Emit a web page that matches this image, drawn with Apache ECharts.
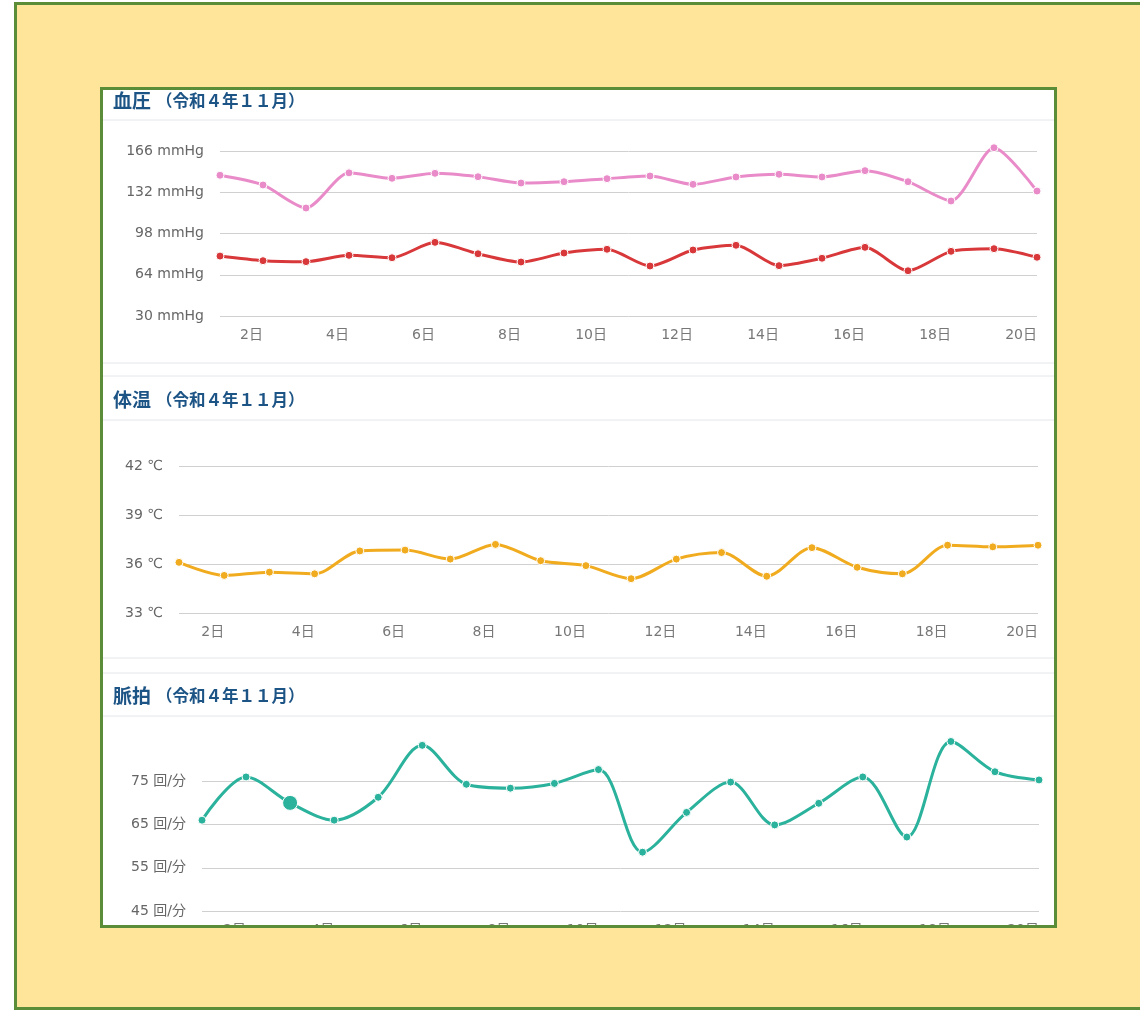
<!DOCTYPE html>
<html>
<head>
<meta charset="utf-8">
<script src="https://cdn.jsdelivr.net/npm/echarts@6/dist/echarts.min.js"></script>
<style>
html, body { margin: 0; padding: 0; width: 1140px; height: 1011px; overflow: hidden; background: #fff; }
#frame {
  position: absolute; left: 14px; top: 2px; width: 1140px; height: 1008px;
  box-sizing: border-box; background: #ffe59a; border: 3px solid #5b8c38;
}
#panel {
  position: absolute; left: 100px; top: 87px; width: 957px; height: 841px;
  box-sizing: border-box; background: #fff; border: 3px solid #5b8c38; overflow: hidden;
}
#chart { position: absolute; left: -103px; top: -90px; width: 1140px; height: 1011px; }
</style>
</head>
<body>
<div id="frame"></div>
<div id="panel"><div id="chart"></div></div>
<script>
// 令和4年11月 1日〜20日
const days = ['1日','2日','3日','4日','5日','6日','7日','8日','9日','10日',
  '11日','12日','13日','14日','15日','16日','17日','18日','19日','20日'];
const bpTicks = [30, 166, 34];     // min, max, interval
const tempTicks = [33, 42, 3];
const pulseTicks = [45, 85, 10];

const systolic = [146, 138, 119, 148, 143.5, 147.6, 144.8, 139.6, 140.7, 143.2,
  145.4, 138.5, 144.6, 146.8, 144.6, 149.8, 140.7, 124.8, 168.7, 133];
const diastolic = [79.4, 75.6, 74.8, 80, 78, 90.7, 81.3, 74.5, 81.9, 85,
  71.2, 84.4, 88.3, 71.5, 77.6, 86.6, 67.3, 83.3, 85.5, 78.4];
const bodyTemp = [36.1, 35.3, 35.5, 35.4, 36.8, 36.85, 36.3, 37.2, 36.2, 35.9,
  35.1, 36.3, 36.7, 35.25, 37.0, 35.8, 35.4, 37.15, 37.05, 37.15];
const pulse = [66, 76, 70, 66, 71.3, 83.3, 74.3, 73.4, 74.5, 77.7,
  58.6, 67.8, 74.8, 64.9, 69.9, 76, 62.1, 84.2, 77.2, 75.3];

const FONT = 'DejaVu Sans, "Noto Sans CJK JP", sans-serif';
const chart = echarts.init(document.getElementById('chart'));

function title(name, top) {
  return {
    text: '{a|' + name + '} {b|（令和４年１１月）}',
    left: 108, top: top,
    textStyle: {
      rich: {
        a: { fontSize: 19, fontWeight: 'bold', color: '#1d5486', fontFamily: '"Noto Sans CJK JP"' },
        b: { fontSize: 16.5, fontWeight: 'bold', color: '#1d5486', fontFamily: '"Noto Sans CJK JP"' }
      }
    }
  };
}

function xAxis(idx) {
  return {
    type: 'category', gridIndex: idx, data: days, boundaryGap: false,
    axisLine: { show: false }, axisTick: { show: false },
    axisLabel: {
      color: '#777', fontSize: 14, fontFamily: FONT, align: 'right', margin: 12,
      interval: (i) => i % 2 === 1
    }
  };
}

function yAxis(idx, ticks, unit, hideMax) {
  return {
    type: 'value', gridIndex: idx, min: ticks[0], max: ticks[1], interval: ticks[2],
    axisLine: { show: false }, axisTick: { show: false },
    axisLabel: {
      color: '#666', fontSize: 14, fontFamily: FONT, margin: 16,
      formatter: '{value} ' + unit, showMaxLabel: !hideMax
    },
    splitLine: { lineStyle: { color: '#d0d0d0' }, showMaxLine: !hideMax }
  };
}

function line(name, idx, data, color, smooth) {
  return {
    name: name, type: 'line', xAxisIndex: idx, yAxisIndex: idx, data: data,
    smooth: smooth, clip: false, symbol: 'circle', symbolSize: 8,
    lineStyle: { color: color, width: 3 },
    itemStyle: { color: color, borderColor: '#fff', borderWidth: 1 }
  };
}

// the 3日 pulse point is drawn enlarged in the original (hover state)
const hoverIdx = 2;
const pulseData = pulse.map((v, i) => i === hoverIdx ? { value: v, symbolSize: 15 } : v);

const sep = (y) => ({
  type: 'line', shape: { x1: 100, y1: y, x2: 1060, y2: y },
  style: { stroke: '#e3e6e8', lineWidth: 1 }, silent: true
});

chart.setOption({
  animation: false,
  title: [title('血圧', 86), title('体温', 385), title('脈拍', 681)],
  graphic: [sep(120), sep(363), sep(376), sep(420), sep(658), sep(673), sep(716)],
  grid: [
    { left: 220, right: 103, top: 151, height: 165 },
    { left: 179, right: 102, top: 466, height: 147 },
    { left: 202, right: 101, top: 738, height: 173 }
  ],
  xAxis: [xAxis(0), xAxis(1), xAxis(2)],
  yAxis: [
    yAxis(0, bpTicks, 'mmHg', false),
    yAxis(1, tempTicks, '℃', false),
    yAxis(2, pulseTicks, '回/分', true)
  ],
  series: [
    line('最高血圧', 0, systolic, '#e98bc9', 0.25),
    line('最低血圧', 0, diastolic, '#d8383a', 0.25),
    line('体温', 1, bodyTemp, '#f1ab1f', 0.3),
    line('脈拍', 2, pulseData, '#2ab29c', 0.32)
  ]
});
</script>
</body>
</html>
